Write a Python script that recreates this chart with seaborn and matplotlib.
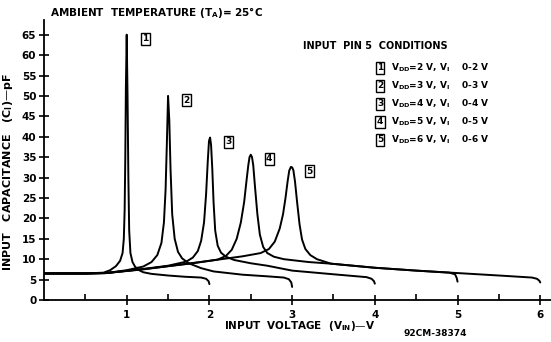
# Input capacitance vs input voltage, five supply conditions (datasheet fig. 92CM-38374)
import numpy as np
import pandas as pd
import matplotlib
matplotlib.use("Agg")
import matplotlib.pyplot as plt
import seaborn as sns

# --- values ---
vin_1 = [0, 0.5, 0.72, 0.8, 0.87, 0.92, 0.95, 0.965, 0.975, 0.983, 0.99, 1.0, 1.01, 1.02, 1.03, 1.045, 1.07, 1.1, 1.14, 1.2, 1.3, 1.5, 1.7, 1.9, 1.96, 1.99, 2.0]
cap_1 = [6.5, 6.5, 6.7, 7.3, 8.3, 9.6, 11.5, 15, 22, 35, 52, 65, 50, 30, 17, 11.5, 9.3, 8.2, 7.4, 6.8, 6.4, 6.0, 5.7, 5.5, 5.2, 4.6, 3.9]

vin_2 = [0, 0.5, 0.75, 1.0, 1.2, 1.3, 1.37, 1.42, 1.45, 1.47, 1.485, 1.5, 1.515, 1.53, 1.55, 1.58, 1.62, 1.67, 1.75, 1.9, 2.05, 2.4, 2.7, 2.9, 2.96, 2.99, 3.0]
cap_2 = [6.5, 6.5, 6.6, 7.3, 8.2, 9.3, 11, 14, 19, 27, 38, 50, 44, 32, 21, 15, 11.8, 10.2, 9.0, 7.8, 7.0, 6.2, 5.8, 5.5, 5.1, 4.3, 3.2]

vin_3 = [0, 0.5, 0.75, 1.2, 1.5, 1.72, 1.8, 1.86, 1.9, 1.935, 1.96, 1.98, 1.995, 2.008, 2.02, 2.035, 2.05, 2.07, 2.1, 2.14, 2.2, 2.3, 2.5, 2.7, 3.0, 3.5, 3.9, 3.96, 3.99, 4.0]
cap_3 = [6.5, 6.5, 6.6, 7.6, 8.4, 9.4, 10.4, 12, 14.5, 19, 26, 34, 39, 39.8, 38, 32, 24, 17, 13.3, 11.6, 10.6, 9.8, 9.0, 8.4, 7.2, 6.3, 5.6, 5.2, 4.6, 4.0]

vin_4 = [0, 0.5, 0.75, 1.3, 1.8, 2.1, 2.2, 2.27, 2.33, 2.38, 2.42, 2.45, 2.47, 2.485, 2.5, 2.515, 2.53, 2.55, 2.58, 2.61, 2.65, 2.7, 2.78, 2.9, 3.2, 3.47, 4.0, 4.5, 4.9, 4.97, 4.99, 5.0]
cap_4 = [6.5, 6.5, 6.6, 7.8, 9.0, 9.9, 10.8, 12.3, 15, 19, 24, 29.5, 33, 35, 35.6, 35, 33, 28, 21, 16, 13, 11.5, 10.6, 10.0, 9.3, 8.9, 7.9, 7.2, 6.7, 6.3, 5.4, 4.5]

vin_5 = [0, 0.5, 0.75, 1.2, 1.58, 2.0, 2.4, 2.62, 2.72, 2.79, 2.85, 2.89, 2.92, 2.945, 2.965, 2.985, 3.0, 3.015, 3.035, 3.06, 3.09, 3.12, 3.16, 3.22, 3.3, 3.47, 4.0, 4.5, 5.0, 5.5, 5.9, 5.96, 5.99, 6.0]
cap_5 = [6.5, 6.5, 6.6, 7.5, 8.5, 9.6, 10.7, 11.5, 12.5, 14.3, 17.5, 21, 25, 29, 31.7, 32.6, 32.5, 31.8, 29, 24, 18.5, 14.8, 12.5, 11.0, 10.0, 8.9, 7.9, 7.2, 6.6, 6.0, 5.5, 5.2, 4.7, 4.3]

curve_ids = ["1", "2", "3", "4", "5"]
vdd = [2, 3, 4, 5, 6]
y_ticks = list(range(0, 70, 5))
x_ticks = [1, 2, 3, 4, 5, 6]

frames = []
for cid, xs, ys in zip(curve_ids, [vin_1, vin_2, vin_3, vin_4, vin_5],
                       [cap_1, cap_2, cap_3, cap_4, cap_5]):
    frames.append(pd.DataFrame({"vin": xs, "cap": ys, "curve": cid}))
df = pd.concat(frames, ignore_index=True)

sns.set_style("ticks")
plt.rcParams["font.family"] = ["DejaVu Sans"]
plt.rcParams["font.weight"] = "bold"
plt.rcParams["mathtext.fontset"] = "dejavusans"
plt.rcParams["mathtext.default"] = "bf"
for k in ["text.color", "axes.labelcolor", "xtick.color", "ytick.color", "axes.edgecolor"]:
    plt.rcParams[k] = "black"

fig = plt.figure(figsize=(5.51, 3.42), dpi=100)
ax = fig.add_axes([44 / 551, 1 - 300 / 342, 1 - 44 / 551, 280 / 342])

sns.lineplot(data=df, x="vin", y="cap", hue="curve", units="curve",
             estimator=None, sort=False, palette=["black"] * 5,
             linewidth=1.4, legend=False, ax=ax)

ax.set_xlim(0, 6.13)
ax.set_ylim(0, 68.6)
ax.set_xticks(x_ticks)
ax.set_xticks([0.5, 1.5, 2.5, 3.5, 4.5, 5.5], minor=True)
ax.set_yticks(y_ticks)
ax.tick_params(axis="both", which="major", direction="inout", length=7,
               width=1.2, labelsize=7.5, colors="black")
ax.tick_params(axis="x", which="minor", direction="in", length=4, width=1.2)
ax.tick_params(axis="y", pad=2)
ax.tick_params(axis="x", pad=4)
for lab in ax.get_xticklabels() + ax.get_yticklabels():
    lab.set_fontweight("bold")
sns.despine(ax=ax)
for sp in ["left", "bottom"]:
    ax.spines[sp].set_linewidth(1.3)
ax.set_xlabel("")
ax.set_ylabel("")

# boxed curve numbers next to each peak
for cid, xs, ys in zip(curve_ids, [vin_1, vin_2, vin_3, vin_4, vin_5],
                       [cap_1, cap_2, cap_3, cap_4, cap_5]):
    i = int(np.argmax(ys))
    ax.annotate(cid, (xs[i], ys[i]), xytext=(11, -3), textcoords="offset points",
                fontsize=6.5, fontweight="bold", ha="left", va="center",
                bbox=dict(boxstyle="square,pad=0.15", fc="white", ec="black", lw=1))

fig.text(50 / 551, 1 - 12 / 342, "AMBIENT  TEMPERATURE (T$_A$)= 25°C",
         fontsize=7.5, fontweight="bold", ha="left", va="center")
fig.text(8 / 551, 1 - 172 / 342, "INPUT   CAPACITANCE   (C$_I$)—pF",
         fontsize=8, fontweight="bold", rotation=90, ha="center", va="center")
fig.text(300 / 551, 1 - 326 / 342, "INPUT  VOLTAGE  (V$_{IN}$)—V",
         fontsize=7.5, fontweight="bold", ha="center", va="center")
fig.text(435 / 551, 1 - 334 / 342, "92CM-38374",
         fontsize=6.5, fontweight="bold", ha="center", va="center")
fig.text(303 / 551, 1 - 46 / 342, "INPUT  PIN 5  CONDITIONS",
         fontsize=7, fontweight="bold", ha="left", va="center")

row_y = [68, 86, 104, 122, 140]
for cid, v, yy in zip(curve_ids, vdd, row_y):
    fig.text(380 / 551, 1 - yy / 342, cid, fontsize=6.5, fontweight="bold",
             ha="center", va="center",
             bbox=dict(boxstyle="square,pad=0.15", fc="white", ec="black", lw=1))
    fig.text(391 / 551, 1 - yy / 342, f"V$_{{DD}}$={v} V, V$_I$    0-{v} V",
             fontsize=6.5, fontweight="bold", ha="left", va="center")

fig.savefig("out.png", dpi=100)
